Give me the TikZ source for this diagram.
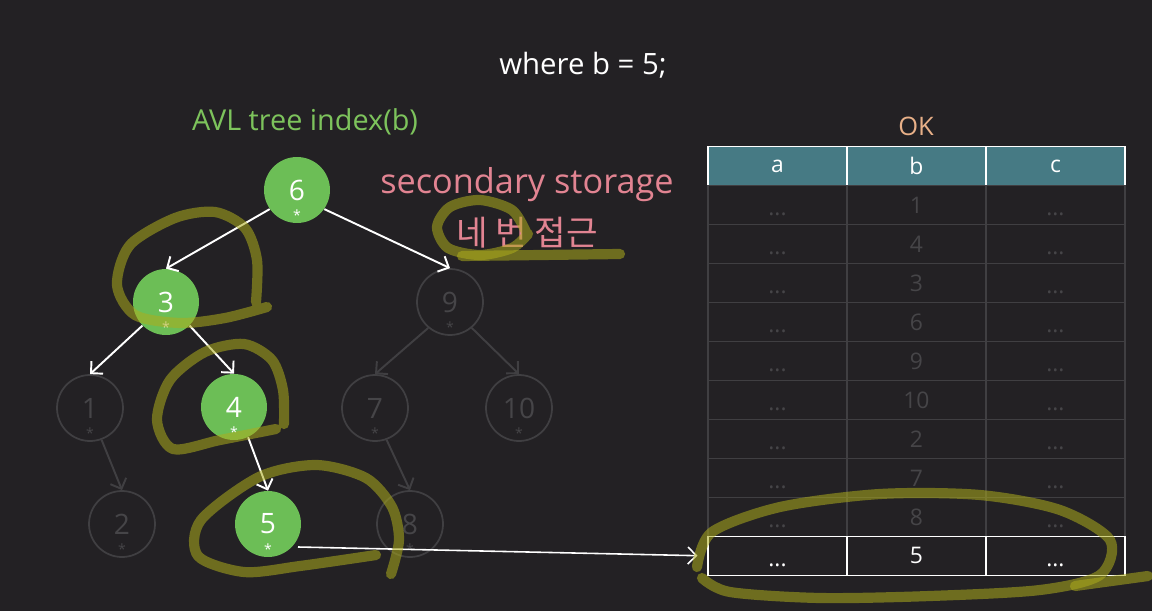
\documentclass[tikz,border=0pt]{standalone}
\usepackage{fontspec}
\setmainfont{Open Sans}
\newfontfamily\krfont{Noto Sans CJK KR}
\usepackage{tikz}
\usetikzlibrary{arrows.meta,positioning}
\definecolor{bgdark}{RGB}{35,33,36}
\definecolor{nodegreen}{RGB}{108,190,86}
\definecolor{fadeline}{RGB}{64,63,66}
\definecolor{fadetext}{RGB}{70,69,72}
\definecolor{tealhead}{RGB}{70,122,132}
\definecolor{idxgreen}{RGB}{125,195,92}
\definecolor{pinktext}{RGB}{226,132,146}
\definecolor{oktext}{RGB}{232,176,136}
\definecolor{hl}{RGB}{172,172,28}
\newcommand{\lowdots}{\raisebox{-6pt}[0pt][0pt]{...}}

\begin{document}
\begin{tikzpicture}[
  x=0.02cm, y=-0.02cm,
  tnode/.style={circle, fill=nodegreen, text=white, minimum size=1.32cm, inner sep=0pt,
    font=\fontsize{16}{16}\selectfont, label={[ast]below:*}},
  fnode/.style={circle, draw=fadeline, line width=1pt, text=fadetext, minimum size=1.32cm,
    inner sep=0pt, font=\fontsize{16}{16}\selectfont, label={[ast, text=fadetext]below:*}},
  ast/.style={font=\fontsize{8}{8}\selectfont, text=white, inner sep=0pt, yshift=8pt},
  arr/.style={-{Straight Barb[length=1.7mm,width=3.4mm]}, draw=white, line width=1.1pt},
  farr/.style={arr, draw=fadeline},
  hcell/.style={rectangle, draw=white, fill=tealhead, line width=1pt, text=white,
    minimum width=2.78cm, minimum height=0.78cm, inner sep=0pt, outer sep=0pt,
    font=\fontsize{13}{13}\selectfont},
  cell/.style={rectangle, draw=fadeline, line width=1pt, text=fadetext,
    minimum width=2.78cm, minimum height=0.78cm, inner sep=0pt, outer sep=0pt,
    font=\fontsize{13}{13}\selectfont},
  hit/.style={cell, draw=white, text=white},
  hlstroke/.style={draw=hl, line width=5.8pt, line cap=round, line join=round, opacity=0.55}
]
\fill[bgdark] (0,0) rectangle (1152,611);
\useasboundingbox (0,0) rectangle (1152,611);

% titles
\node[text=white, font=\fontsize{16.7}{16.7}\selectfont] (title) at (583,65) {where b = 5;};
\node[text=idxgreen, font=\fontsize{16.4}{16.4}\selectfont] (idx) at (305,122) {AVL tree index(b)};
\node[text=pinktext, font=\fontsize{19.5}{19.5}\selectfont] (sec) at (527,185) {secondary storage};
\node[text=pinktext, font=\krfont\fontsize{19.5}{19.5}\selectfont] (kr) at (527,233) {네 번 접근};

% tree
\node[tnode] (n6) at (297,190) {6};
\node[tnode] (n3) at (166,302) {3};
\node[fnode] (n9) at (450,302) {9};
\node[fnode] (n1) at (90,408) {1};
\node[tnode] (n4) at (234,407) {4};
\node[fnode] (n7) at (375,408) {7};
\node[fnode] (n10) at (519,408) {10};
\node[fnode] (n2) at (122,524) {2};
\node[tnode] (n5) at (268,524) {5};
\node[fnode] (n8) at (410,524) {8};
\draw[arr] (n6.215) -- (n3.north);
\draw[arr] (n6.-35) -- (n9.north);
\draw[arr] (n3.225) -- (n1.north);
\draw[arr] (n3.-45) -- (n4.north);
\draw[arr] (n4.-65) -- (n5.north);
\draw[farr] (n9.230) -- (n7.north);
\draw[farr] (n9.-50) -- (n10.north);
\draw[farr] (n1.-70) -- (n2.north);
\draw[farr] (n7.-70) -- (n8.north);

% table
\node[hcell] (ha) at (777.5,166) {a};
\node[hcell, right=0pt of ha] (hb) {b};
\node[hcell, right=0pt of hb] (hc) {c};
\node[text=oktext, font=\fontsize{14.5}{14.5}\selectfont] (ok) at (916,126) {OK};
\node[cell, below=0pt of ha] (r1a) {\lowdots}; \node[cell, right=0pt of r1a] (r1b) {1}; \node[cell, right=0pt of r1b] (r1c) {\lowdots};
\node[cell, below=0pt of r1a] (r2a) {\lowdots}; \node[cell, right=0pt of r2a] (r2b) {4}; \node[cell, right=0pt of r2b] (r2c) {\lowdots};
\node[cell, below=0pt of r2a] (r3a) {\lowdots}; \node[cell, right=0pt of r3a] (r3b) {3}; \node[cell, right=0pt of r3b] (r3c) {\lowdots};
\node[cell, below=0pt of r3a] (r4a) {\lowdots}; \node[cell, right=0pt of r4a] (r4b) {6}; \node[cell, right=0pt of r4b] (r4c) {\lowdots};
\node[cell, below=0pt of r4a] (r5a) {\lowdots}; \node[cell, right=0pt of r5a] (r5b) {9}; \node[cell, right=0pt of r5b] (r5c) {\lowdots};
\node[cell, below=0pt of r5a] (r6a) {\lowdots}; \node[cell, right=0pt of r6a] (r6b) {10}; \node[cell, right=0pt of r6b] (r6c) {\lowdots};
\node[cell, below=0pt of r6a] (r7a) {\lowdots}; \node[cell, right=0pt of r7a] (r7b) {2}; \node[cell, right=0pt of r7b] (r7c) {\lowdots};
\node[cell, below=0pt of r7a] (r8a) {\lowdots}; \node[cell, right=0pt of r8a] (r8b) {7}; \node[cell, right=0pt of r8b] (r8c) {\lowdots};
\node[cell, below=0pt of r8a] (r9a) {\lowdots}; \node[cell, right=0pt of r9a] (r9b) {8}; \node[cell, right=0pt of r9b] (r9c) {\lowdots};
\node[hit, below=0pt of r9a] (r10a) {\lowdots}; \node[hit, right=0pt of r10a] (r10b) {5}; \node[hit, right=0pt of r10b] (r10c) {\lowdots};

% pointer from leaf 5 to its row
\coordinate (ptr) at (298,547);
\draw[arr, line width=0.9pt, shorten >=6pt] (ptr) -- (r10a.west);

% highlighter marks
\draw[hlstroke] plot[smooth] coordinates {(267,307) (225,318) (180,323) (135,315) (117,285) (130,245) (175,218) (215,212) (245,228) (257,260) (256,302)};
\draw[hlstroke] plot[smooth] coordinates {(276,429) (220,440) (173,449) (157,420) (170,380) (205,352) (244,344) (272,360) (283,390) (284,424)};
\draw[hlstroke] plot[smooth] coordinates {(376,555) (300,566) (244,572) (198,556) (201,520) (259,477) (316,465) (366,478) (392,507) (399,540) (391,574)};
\draw[hlstroke] plot[smooth] coordinates {(526,232) (512,210) (480,200) (450,207) (437,227) (448,248) (480,255) (512,248) (528,234)};
\draw[hlstroke] (462,256) -- (620,254);
\draw[hlstroke] plot[smooth] coordinates {(697,567) (712,532) (780,507) (880,494) (980,495) (1060,510) (1110,540) (1100,575) (1040,590) (930,596) (820,598) (730,592) (702,578)};
\draw[hlstroke] (1075,586) -- (1148,576);
\end{tikzpicture}
\end{document}
